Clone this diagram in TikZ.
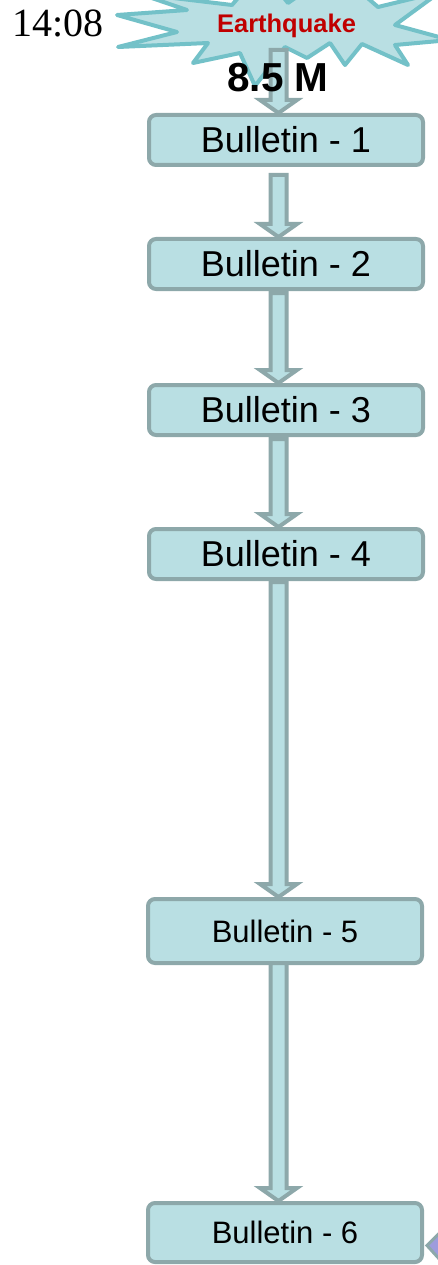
\documentclass[tikz,border=0pt]{standalone}
\usepackage{fontspec}
\setmainfont{Liberation Sans}
\newfontfamily\seriffont{Liberation Serif}
\usetikzlibrary{calc}

\definecolor{boxfill}{HTML}{B9DFE3}
\definecolor{boxline}{HTML}{8DA8AA}
\definecolor{starline}{HTML}{73C1C8}
\definecolor{quakered}{HTML}{C00000}
\definecolor{tipfill}{HTML}{9D9CDC}

\tikzset{
  bulletin/.style={draw=boxline, fill=boxfill, line width=4pt, rounded corners=7pt,
    minimum width=274pt, inner sep=0pt, text=black},
  bigtext/.style={font=\fontsize{36}{40}\selectfont},
  smalltext/.style={font=\fontsize{31}{34}\selectfont},
  blockarr/.style={draw=boxline, fill=boxfill, line width=4pt, line join=miter},
  burst/.style={draw=starline, fill=boxfill, line width=4pt, line join=round},
}

% downward block arrow between two coordinates on the same vertical line
\newcommand{\blockarrow}[2]{%
  \draw[blockarr] ($(#1)+(-8,0)$) -- ($(#1)+(8,0)$) -- ($(#2)+(8,-13)$)
    -- ($(#2)+(18.5,-13)$) -- (#2) -- ($(#2)+(-18.5,-13)$)
    -- ($(#2)+(-8,-13)$) -- cycle;}

\begin{document}
\begin{tikzpicture}[x=1pt,y=-1pt]
\useasboundingbox (0,0) rectangle (438,1265);
\clip (0,0) rectangle (438,1265);

% explosion shape
\draw[burst] (187,10) -- (140,-6) -- (232,5) -- (262,-30) -- (288,3) -- (335,-30)
  -- (378,7) -- (440,-8) -- (395,25) -- (450,40) -- (395,45) -- (408,65)
  -- (362,44) -- (345,65) -- (330,43) -- (307,58) -- (285,47) -- (255,86)
  -- (240,53) -- (193,63) -- (208,43) -- (118,47) -- (177,32) -- (117,15) -- cycle;

\node[anchor=base, font=\seriffont\fontsize{40}{40}\selectfont] (time) at (58,37) {14:08};
\node[anchor=base, font=\bfseries\fontsize{25.5}{26}\selectfont, text=quakered] (quake) at (286.5,33) {Earthquake};

% bulletins
\node[bulletin, bigtext, minimum height=50pt] (b1) at (286,140) {Bulletin - 1};
\node[bulletin, bigtext, minimum height=50pt] (b2) at (286,264) {Bulletin - 2};
\node[bulletin, bigtext, minimum height=50pt] (b3) at (286,410) {Bulletin - 3};
\node[bulletin, bigtext, minimum height=50pt] (b4) at (286,554) {Bulletin - 4};
\node[bulletin, smalltext, minimum height=64pt] (b5) at (285,931) {Bulletin - 5};
\node[bulletin, smalltext, minimum height=59pt] (b6) at (285,1232.5) {Bulletin - 6};

% arrow axis
\coordinate (ax) at (278.5,0);
\coordinate (a1s) at (ax |- 0,50);
\coordinate (a1e) at (ax |- b1.north);
\coordinate (a2s) at ($(ax |- b1.south)+(0,8)$);
\coordinate (a2e) at (ax |- b2.north);
\coordinate (a3s) at ($(ax |- b2.south)+(0,2)$);
\coordinate (a3e) at (ax |- b3.north);
\coordinate (a4s) at ($(ax |- b3.south)+(0,2)$);
\coordinate (a4e) at (ax |- b4.north);
\coordinate (a5s) at ($(ax |- b4.south)+(0,1)$);
\coordinate (a5e) at (ax |- b5.north);
\coordinate (a6s) at ($(ax |- b5.south)+(0,-2)$);
\coordinate (a6e) at (ax |- b6.north);

\blockarrow{a1s}{a1e}
\blockarrow{a2s}{a2e}
\blockarrow{a3s}{a3e}
\blockarrow{a4s}{a4e}
\blockarrow{a5s}{a5e}
\blockarrow{a6s}{a6e}

\node[anchor=base, font=\bfseries\fontsize{40.5}{41}\selectfont] (mag) at (278,92) {8.5 M};

% incoming arrow tip at the last bulletin
\coordinate (tip) at ($(b6.east)+(3,13)$);
\draw[draw=boxline, fill=tipfill, line width=3pt, line join=miter]
  (tip) -- ($(tip)+(20,-20)$) -- ($(tip)+(20,22)$) -- cycle;
\end{tikzpicture}
\end{document}
